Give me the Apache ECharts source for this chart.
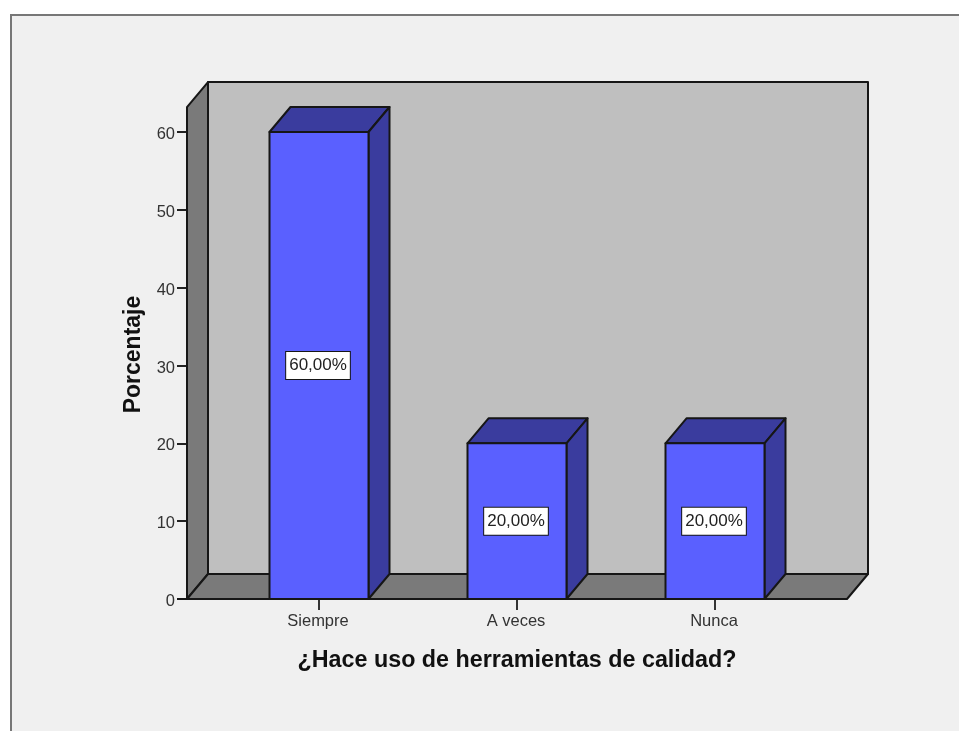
<!DOCTYPE html>
<html><head><meta charset="utf-8">
<style>html,body{margin:0;padding:0;background:#fff}#c{width:959px;height:731px}</style>
<script src="https://cdn.jsdelivr.net/npm/echarts@6/dist/echarts.min.js"></script>
</head><body><div id="c"></div>
<script>
var categories = ['Siempre', 'A veces', 'Nunca'];
var percentages = [60, 20, 20];
var barLabels = ['60,00%', '20,00%', '20,00%'];
var yTicks = [0, 10, 20, 30, 40, 50, 60];
var axisTop = 63.2;

var DX = 21, DY = 25, INK = '#161616', FONT = '"Liberation Sans", Arial, sans-serif';
function poly(points, fill, stroke) {
  return { type: 'polygon', shape: { points: points },
    style: { fill: fill, stroke: stroke || INK, lineWidth: 2, lineJoin: 'round' } };
}
function renderFrame(params, api) {
  var cs = params.coordSys;
  var l = cs.x - 33, r = cs.x + cs.width + 33;
  var b = api.coord([0, 0])[1], t = api.coord([0, axisTop])[1];
  return { type: 'group', children: [
    poly([[l + DX, t - DY], [r + DX, t - DY], [r + DX, b - DY], [l + DX, b - DY]], '#bfbfbf'),
    poly([[l, t], [l + DX, t - DY], [l + DX, b - DY], [l, b]], '#7a7a7a'),
    poly([[l, b], [l + DX, b - DY], [r + DX, b - DY], [r, b]], '#7a7a7a'),
    { type: 'line', shape: { x1: l - 10, y1: b, x2: r, y2: b },
      style: { stroke: INK, lineWidth: 2 } }
  ]};
}
function renderBar(params, api) {
  var i = api.value(0), v = api.value(1);
  var top = api.coord([i, v]), base = api.coord([i, 0]), mid = api.coord([i, v / 2]);
  var w = api.size([1, 0])[0] / 2;
  var l = top[0] - w / 2, r = top[0] + w / 2, t = top[1], b = base[1];
  return { type: 'group', children: [
    poly([[l, t], [l + DX, t - DY], [r + DX, t - DY], [r, t]], '#3a3c9e'),
    poly([[r, t], [r + DX, t - DY], [r + DX, b - DY], [r, b]], '#3a3c9e'),
    poly([[l, t], [r, t], [r, b], [l, b]], '#5a60ff'),
    { type: 'text', x: mid[0] - 1, y: mid[1],
      style: { text: barLabels[params.dataIndex], fill: '#222', font: '17px ' + FONT,
        align: 'center', verticalAlign: 'middle', backgroundColor: '#fff',
        borderColor: INK, borderWidth: 1, padding: [5, 3, 5, 3] } }
  ]};
}
var chart = echarts.init(document.getElementById('c'));
chart.setOption({
  animation: false,
  backgroundColor: '#fff',
  grid: { left: 220, width: 594, top: 132, height: 467 },
  graphic: [{ type: 'rect', z: -1, shape: { x: 11, y: 15, width: 1000, height: 800 },
    style: { fill: '#f0f0f0', stroke: '#777', lineWidth: 2 } }],
  xAxis: { type: 'category', data: categories,
    name: '¿Hace uso de herramientas de calidad?', nameLocation: 'middle', nameGap: 50,
    nameTextStyle: { fontFamily: FONT, fontWeight: 'bold', fontSize: 23.3, color: '#111' },
    axisLine: { show: false },
    axisTick: { show: true, alignWithLabel: true, length: 11, lineStyle: { color: '#333', width: 2 } },
    axisLabel: { fontFamily: FONT, fontSize: 16.5, color: '#333', margin: 14, padding: [0, 2, 0, 0] } },
  yAxis: { type: 'value', min: yTicks[0], max: yTicks[yTicks.length - 1], interval: 10, offset: 33,
    name: 'Porcentaje', nameLocation: 'middle', nameGap: 42,
    nameTextStyle: { fontFamily: FONT, fontWeight: 'bold', fontSize: 23, color: '#111', padding: [0, 0, 0, 22] },
    splitLine: { show: false },
    axisLine: { show: false },
    axisTick: { show: true, length: 10, lineStyle: { color: '#222', width: 2 } },
    axisLabel: { fontFamily: FONT, fontSize: 16.5, color: '#333', margin: 12, verticalAlign: 'top', lineHeight: 5 } },
  series: [
    { type: 'custom', renderItem: renderFrame, data: [[0, 0]], clip: false, silent: true, z: 1 },
    { type: 'custom', renderItem: renderBar, clip: false, z: 2,
      data: percentages.map(function (v, i) { return [i, v]; }), encode: { x: 0, y: 1 } }
  ]
});
</script></body></html>
